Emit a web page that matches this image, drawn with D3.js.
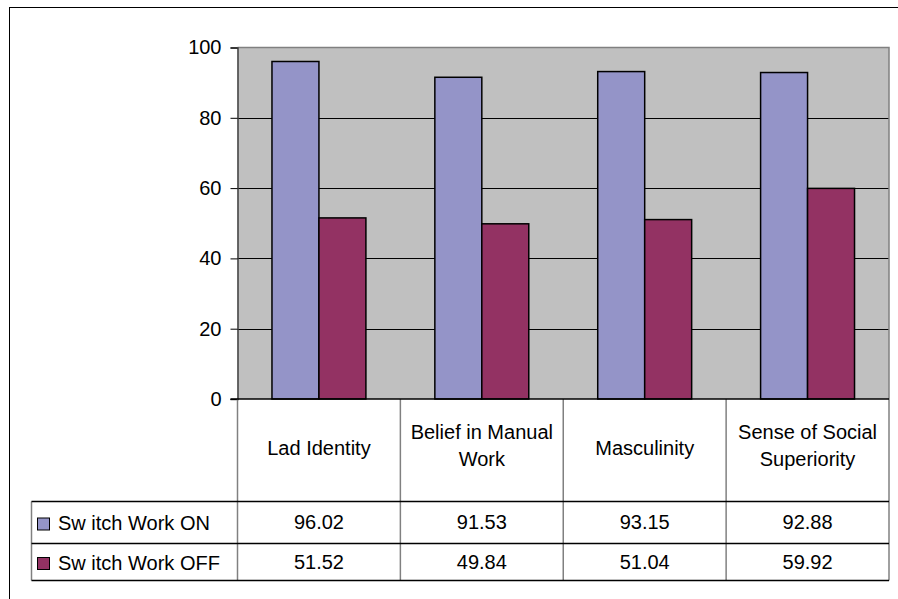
<!DOCTYPE html>
<html>
<head>
<meta charset="utf-8">
<script src="https://cdn.jsdelivr.net/npm/d3@7/dist/d3.min.js"></script>
<style>
  html, body { margin: 0; padding: 0; background: #fff; }
  svg { display: block; font-family: "Liberation Sans", Arial, sans-serif; }
</style>
</head>
<body>
<svg id="chart" width="898" height="599"></svg>
<script>
// Category labels (header row of the data table); "\n" splits a label onto two lines
const categories = ["Lad Identity", "Belief in Manual\nWork", "Masculinity", "Sense of Social\nSuperiority"];
const seriesNames = ["Sw itch Work ON", "Sw itch Work OFF"];
const switchOn  = [96.02, 91.53, 93.15, 92.88];
const switchOff = [51.52, 49.84, 51.04, 59.92];
const seriesColors = ["#9494c8", "#933263"];
const yTicks = [0, 20, 40, 60, 80, 100];

const series = [switchOn, switchOff];

const svg = d3.select("#chart");

// Plot frame
const plotLeft = 237.5, plotRight = 889, plotTop = 47.5, plotBottom = 399;
const rowLines = [399, 501.5, 543.5, 580.5];
const legendLeft = 31.5;

// Outer chart border (runs off the right and bottom of the page)
svg.append("rect")
  .attr("x", 9.5).attr("y", 7.5)
  .attr("width", 1000).attr("height", 1000)
  .attr("fill", "none").attr("stroke", "#000").attr("stroke-width", 1);

const x = d3.scaleBand().domain(d3.range(categories.length)).range([plotLeft, plotRight]).padding(0);
const xs = d3.scaleBand().domain(d3.range(series.length)).range([0, x.bandwidth()])
  .paddingInner(0).paddingOuter(0.734);
const y = d3.scaleLinear().domain([0, 100]).range([plotBottom, plotTop]);

// Plot background
svg.append("rect")
  .attr("x", plotLeft).attr("y", plotTop)
  .attr("width", plotRight - plotLeft).attr("height", plotBottom - plotTop)
  .attr("fill", "#c0c0c0");

// Gridlines
svg.append("g").selectAll("line")
  .data(yTicks.filter(t => t > 0 && t < 100))
  .join("line")
  .attr("x1", plotLeft).attr("x2", plotRight)
  .attr("y1", d => Math.round(y(d)) + 0.5).attr("y2", d => Math.round(y(d)) + 0.5)
  .attr("stroke", "#000").attr("stroke-width", 1);

// Plot border (top and right)
svg.append("path")
  .attr("d", `M${plotLeft},${plotTop}H${plotRight}V${plotBottom}`)
  .attr("fill", "none").attr("stroke", "#808080").attr("stroke-width", 1.5);

// Bars
series.forEach((vals, si) => {
  svg.append("g").selectAll("rect")
    .data(vals)
    .join("rect")
    .attr("x", (d, i) => x(i) + xs(si))
    .attr("y", d => y(d))
    .attr("width", xs.bandwidth())
    .attr("height", d => y(0) - y(d))
    .attr("fill", seriesColors[si])
    .attr("stroke", "#000").attr("stroke-width", 1.5);
});

// Y axis
const yAxis = d3.axisLeft(y).tickValues(yTicks).tickSize(7).tickPadding(9);
const ya = svg.append("g").attr("transform", `translate(${plotLeft},0)`).call(yAxis);
ya.select(".domain").attr("stroke", "#404040").attr("stroke-width", 1.5);
ya.selectAll(".tick line").attr("stroke", "#000");
ya.selectAll(".tick text")
  .attr("font-size", 20).attr("fill", "#000")
  .attr("font-family", "Liberation Sans, Arial, sans-serif");

// Data table: vertical lines (grey)
const vLines = d3.range(categories.length + 1).map(i => i < categories.length ? x(i) : plotRight);
svg.append("g").selectAll("line")
  .data(vLines)
  .join("line")
  .attr("x1", d => d).attr("x2", d => d)
  .attr("y1", plotBottom).attr("y2", rowLines[3])
  .attr("stroke", "#808080").attr("stroke-width", 1.5);
svg.append("line")
  .attr("x1", legendLeft).attr("x2", legendLeft)
  .attr("y1", rowLines[1]).attr("y2", rowLines[3])
  .attr("stroke", "#808080").attr("stroke-width", 1.5);

// Data table: horizontal lines (black)
svg.append("line")
  .attr("x1", plotLeft - 7).attr("x2", plotRight)
  .attr("y1", plotBottom).attr("y2", plotBottom)
  .attr("stroke", "#000").attr("stroke-width", 1.5);
svg.append("g").selectAll("line")
  .data(rowLines.slice(1))
  .join("line")
  .attr("x1", legendLeft).attr("x2", plotRight)
  .attr("y1", d => d).attr("y2", d => d)
  .attr("stroke", "#000").attr("stroke-width", 1.5);

// Header row: category names
const header = svg.append("g").attr("font-size", 20).attr("fill", "#000").attr("text-anchor", "middle");
categories.forEach((c, i) => {
  const lines = c.split("\n");
  const cx = x(i) + x.bandwidth() / 2;
  const cy = (rowLines[0] + rowLines[1]) / 2 - (lines.length > 1 ? 2.5 : 0);
  const lh = 27;
  const t = header.append("text");
  lines.forEach((ln, k) => {
    t.append("tspan")
      .attr("x", cx)
      .attr("y", cy + 5 + (k - (lines.length - 1) / 2) * lh)
      .text(ln);
  });
});

// Value rows with legend keys
series.forEach((vals, si) => {
  const cy = (rowLines[si + 1] + rowLines[si + 2]) / 2;
  const g = svg.append("g").attr("font-size", 20).attr("fill", "#000");
  g.selectAll("text.val")
    .data(vals)
    .join("text")
    .attr("class", "val")
    .attr("x", (d, i) => x(i) + x.bandwidth() / 2)
    .attr("y", cy + 6.5)
    .attr("text-anchor", "middle")
    .text(d => d3.format(".2f")(d));
  g.append("rect")
    .attr("x", 37.5).attr("y", cy - 4.5)
    .attr("width", 12).attr("height", 12)
    .attr("fill", seriesColors[si])
    .attr("stroke", "#000").attr("stroke-width", 1);
  g.append("text")
    .attr("x", 58).attr("y", cy + 7.5)
    .text(seriesNames[si]);
});
</script>
</body>
</html>
